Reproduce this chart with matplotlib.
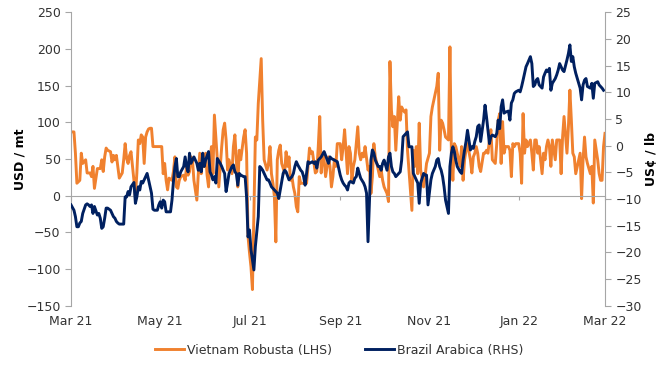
import matplotlib
matplotlib.use("Agg")
import matplotlib.pyplot as plt
import matplotlib.dates as mdates
import numpy as np
import pandas as pd

# days since 1 Mar 2021
rob_day = [0, 2, 3, 4, 5, 6, 7, 8, 10, 11,
           12, 13, 14, 15, 16, 18, 19, 20, 21, 22,
           23, 24, 25, 27, 28, 29, 30, 31, 32, 33,
           35, 36, 37, 38, 39, 40, 41, 43, 44, 45,
           46, 47, 48, 49, 50, 51, 52, 53, 54, 55,
           56, 57, 60, 62, 63, 64, 65, 66, 67, 69,
           70, 71, 72, 73, 74, 75, 77, 78, 79, 80,
           81, 82, 83, 84, 86, 87, 88, 89, 90, 91,
           92, 93, 94, 95, 96, 97, 98, 99, 100, 101,
           102, 103, 104, 105, 106, 107, 108, 110, 111, 112,
           113, 114, 115, 116, 118, 119, 120, 121, 122, 123,
           124, 126, 127, 128, 130, 131, 132, 134, 135, 136,
           137, 138, 139, 140, 141, 142, 143, 144, 146, 147,
           148, 149, 150, 151, 152, 153, 154, 155, 156, 157,
           159, 160, 161, 162, 163, 164, 165, 167, 168, 169,
           170, 171, 172, 173, 174, 176, 177, 178, 179, 180,
           181, 182, 184, 185, 186, 187, 189, 190, 191, 192,
           193, 194, 196, 197, 198, 199, 200, 201, 203, 204,
           205, 206, 207, 208, 209, 210, 211, 212, 213, 214,
           216, 217, 218, 219, 220, 221, 222, 224, 225, 226,
           227, 228, 229, 230, 231, 233, 234, 235, 236, 237,
           238, 239, 241, 242, 243, 244, 245, 246, 247, 249,
           250, 251, 252, 253, 254, 255, 256, 258, 259, 260,
           261, 262, 263, 264, 265, 266, 267, 268, 269, 270,
           271, 273, 274, 275, 276, 277, 278, 279, 280, 282,
           283, 284, 285, 286, 287, 288, 290, 291, 292, 293,
           294, 295, 296, 297, 299, 300, 301, 302, 303, 304,
           306, 307, 308, 309, 310, 311, 312, 314, 315, 316,
           317, 318, 319, 320, 322, 323, 324, 325, 326, 327,
           328, 329, 331, 332, 333, 334, 335, 336, 337, 339,
           340, 341, 342, 343, 344, 345, 347, 348, 349, 350,
           351, 352, 353, 355, 356, 357, 358, 359, 360, 361,
           362, 363, 364, 365]
# Vietnam Robusta, USD / mt (LHS)
rob_val = [87, 87, 58, 17, 19, 21, 58, 44, 49, 31,
           31, 31, 26, 40, 10, 37, 37, 37, 49, 33,
           53, 65, 62, 60, 46, 55, 49, 55, 40, 24,
           31, 49, 71, 51, 44, 55, 60, 21, -1, 31,
           76, 71, 83, 80, 44, 80, 87, 91, 92, 92,
           67, 67, 67, 67, 30, 44, 21, 8, 24, 21,
           33, 53, 12, 10, 21, 26, 28, 21, 40, 28,
           33, 53, 49, 21, -6, 30, 58, 30, 49, 40,
           58, 28, 12, 49, 67, 30, 110, 80, 49, 12,
           40, 67, 90, 99, 76, 35, 49, 30, 67, 83,
           49, 12, 62, 49, 80, 90, 58, -56, -78, -97,
           -128, 80, 76, 126, 187, 103, 49, 35, 44, 67,
           30, 17, -1, -63, 49, 62, 69, 44, 31, 60,
           40, 53, 21, 26, 12, 3, -15, -22, 26, 17,
           17, 17, 17, 40, 65, 58, 60, 31, 33, 67,
           108, 31, 58, 49, 26, 53, 40, 12, 26, 49,
           40, 71, 71, 49, 67, 90, 30, 67, 58, 21,
           40, 49, 94, 58, 49, 58, 53, 67, 35, 40,
           3, 26, 71, 53, 44, 35, 26, 35, 21, 12,
           3, -8, 183, 117, 94, 108, 62, 135, 103, 121,
           117, 114, 117, 62, 35, -20, 62, 40, 67, 30,
           99, 35, 12, 26, 44, 51, 58, 108, 121, 140,
           149, 167, 62, 103, 99, 90, 80, 76, 203, 58,
           21, 71, 67, 58, 49, 40, 67, 21, 49, 62,
           71, 49, 31, 53, 58, 67, 58, 40, 33, 58,
           58, 62, 58, 76, 90, 49, 44, 71, 103, 112,
           44, 101, 58, 67, 67, 62, 26, 71, 67, 71,
           71, 58, 17, 112, 58, 76, 67, 76, 58, 35,
           76, 76, 58, 67, 30, 58, 49, 67, 76, 67,
           40, 76, 49, 76, 76, 76, 30, 80, 108, 58,
           94, 144, 103, 58, 53, 30, 49, 58, -4, 49,
           80, 53, 44, 30, 40, -10, 76, 62, 49, 30,
           21, 21, 67, 85]

ara_day = [0, 2, 3, 4, 5, 6, 7, 8, 10, 11,
           12, 13, 14, 15, 16, 18, 19, 20, 21, 22,
           23, 24, 25, 27, 28, 29, 30, 31, 32, 33,
           35, 36, 37, 38, 39, 40, 41, 43, 44, 45,
           46, 47, 48, 49, 51, 52, 53, 54, 55, 56,
           57, 59, 60, 61, 62, 63, 64, 65, 67, 68,
           69, 70, 71, 72, 73, 74, 75, 77, 78, 79,
           80, 81, 82, 83, 84, 86, 87, 88, 89, 90,
           91, 92, 94, 95, 96, 97, 98, 99, 100, 102,
           103, 104, 105, 106, 107, 108, 110, 111, 112, 113,
           114, 115, 116, 118, 119, 120, 121, 122, 123, 125,
           126, 128, 129, 130, 131, 133, 134, 135, 136, 137,
           138, 139, 141, 142, 143, 144, 145, 146, 147, 149,
           150, 151, 152, 153, 154, 155, 157, 158, 159, 160,
           161, 162, 163, 165, 166, 167, 168, 169, 171, 173,
           176, 177, 178, 180, 182, 184, 185, 186, 187, 188,
           189, 190, 191, 193, 194, 195, 196, 197, 198, 200,
           201, 202, 203, 204, 205, 206, 207, 208, 210, 211,
           212, 213, 214, 216, 217, 218, 219, 220, 221, 222,
           224, 225, 226, 227, 228, 229, 230, 231, 233, 234,
           235, 236, 237, 238, 239, 241, 242, 243, 244, 246,
           247, 249, 250, 251, 252, 253, 254, 255, 256, 258,
           259, 260, 261, 262, 263, 264, 266, 267, 268, 269,
           270, 271, 273, 274, 275, 276, 277, 278, 279, 280,
           282, 283, 284, 285, 286, 287, 288, 290, 291, 292,
           293, 294, 295, 296, 297, 299, 300, 301, 302, 303,
           304, 306, 307, 308, 309, 310, 311, 312, 314, 315,
           316, 317, 318, 319, 320, 322, 323, 324, 325, 326,
           327, 328, 329, 331, 332, 333, 334, 335, 336, 337,
           339, 340, 341, 342, 343, 344, 345, 347, 348, 349,
           350, 351, 352, 353, 355, 356, 357, 358, 360, 361,
           362, 363, 364]
# Brazil Arabica, US cents / lb (RHS)
ara_val = [-11.1, -12.1, -13.3, -15.2, -15.2, -14.5, -14.2, -12.7, -11.1, -10.9,
           -11.1, -11.4, -11.1, -12.7, -11.4, -13.0, -12.7, -13.6, -15.5, -15.2,
           -13.6, -11.7, -11.7, -12.1, -12.7, -13.3, -13.6, -14.2, -14.5, -14.7,
           -14.7, -14.7, -9.6, -9.6, -8.6, -9.2, -7.7, -6.9, -10.8, -9.6,
           -7.7, -8.3, -6.7, -7.0, -5.8, -5.2, -6.4, -7.7, -8.9, -11.9,
           -12.1, -12.1, -11.1, -10.5, -11.7, -10.2, -10.5, -12.4, -12.4, -12.4,
           -10.2, -6.7, -4.0, -2.4, -5.8, -5.8, -4.9, -3.9, -2.1, -3.9,
           -4.9, -1.4, -3.3, -2.7, -2.1, -3.3, -4.6, -3.3, -4.9, -1.4,
           -3.9, -2.7, -1.1, -4.9, -5.5, -6.4, -5.8, -7.0, -2.4, -3.3,
           -3.9, -4.6, -5.2, -8.6, -7.0, -5.2, -3.9, -3.6, -4.9, -5.2,
           -7.4, -5.2, -5.5, -5.8, -5.8, -9.6, -17.1, -15.8, -19.5, -23.3,
           -18.9, -13.3, -3.9, -4.2, -4.6, -5.8, -6.4, -6.4, -7.0, -7.7,
           -8.0, -8.3, -8.9, -9.9, -8.3, -6.7, -5.2, -4.6, -4.9, -6.4,
           -6.1, -5.8, -5.2, -3.9, -3.0, -3.6, -4.6, -4.9, -5.8, -7.4,
           -5.2, -3.0, -3.3, -3.0, -3.3, -3.0, -4.2, -2.7, -2.1, -1.1,
           -3.3, -2.1, -2.4, -2.7, -3.0, -5.5, -6.4, -7.0, -7.4, -7.7,
           -8.3, -7.0, -6.7, -7.0, -6.1, -5.8, -4.2, -5.2, -6.1, -7.0,
           -7.7, -8.9, -18.0, -10.2, -2.7, -0.8, -1.4, -2.7, -3.9, -3.9,
           -4.6, -3.3, -2.7, -4.6, -2.1, -1.4, -3.9, -4.9, -5.2, -5.8,
           -5.2, -4.9, -2.7, 1.7, 2.0, 2.3, 2.6, -0.2, -0.2, -5.2,
           -5.8, -6.4, -7.0, -10.8, -7.0, -5.2, -5.5, -5.5, -11.1, -6.4,
           -5.2, -3.9, -2.7, -2.4, -3.9, -4.6, -5.8, -7.7, -10.2, -12.7,
           -3.9, -1.4, -0.2, -1.1, -2.7, -3.9, -4.9, -5.2, -2.7, -0.8,
           0.8, 2.9, -0.8, -0.2, -0.5, 0.8, 1.7, 3.6, 3.9, 0.8,
           4.8, 7.6, 5.4, 2.9, 0.4, 1.7, 2.0, 1.7, 2.3, 4.8,
           3.2, 7.3, 8.6, 6.1, 6.3, 6.5, 4.8, 8.0, 8.6, 9.8,
           10.1, 10.4, 10.1, 11.1, 12.3, 13.6, 14.8, 15.4, 16.7, 15.4,
           11.1, 11.4, 12.3, 12.6, 11.4, 10.8, 12.9, 13.6, 14.2, 13.9,
           14.5, 10.4, 11.7, 12.6, 13.3, 14.2, 15.4, 14.8, 14.2, 13.9,
           16.1, 17.3, 18.9, 15.8, 16.7, 14.8, 13.6, 11.7, 10.8, 8.6,
           11.4, 12.3, 12.6, 11.1, 10.8, 11.7, 8.9, 11.7, 12.0, 11.4,
           11.1, 10.8, 10.4]

start = pd.Timestamp("2021-03-01")
rob_x = mdates.date2num(start + pd.to_timedelta(rob_day, unit="D"))
ara_x = mdates.date2num(start + pd.to_timedelta(ara_day, unit="D"))

orange = "#F0812F"
navy = "#002060"
grey = "#A6A6A6"
txt = "#333333"

fig = plt.figure(figsize=(6.72, 3.76), dpi=100)
ax = fig.add_axes([0.1057, 0.187, 0.7946, 0.780])
ax2 = ax.twinx()

l1, = ax.plot(rob_x, rob_val, color=orange, lw=2.1, label="Vietnam Robusta (LHS)")
l2, = ax2.plot(ara_x, ara_val, color=navy, lw=2.1, label="Brazil Arabica (RHS)")

ax.set_xlim(mdates.date2num(pd.Timestamp("2021-03-01")),
            mdates.date2num(pd.Timestamp("2022-03-01")))
ax.set_ylim(-150, 250)
ax.set_yticks(np.arange(-150, 251, 50))
ax2.set_ylim(-30, 25)
ax2.set_yticks(np.arange(-30, 26, 5))

# x axis line sits on zero, month labels sit at the bottom
months = mdates.MonthLocator(bymonth=[1, 3, 5, 7, 9, 11])
ax.spines["bottom"].set_position(("data", 0))
ax.spines["bottom"].set_color(grey)
ax.xaxis.set_major_locator(months)
ax.tick_params(axis="x", direction="out", length=3, color=grey, labelbottom=False)

sec = ax.secondary_xaxis(0)
sec.xaxis.set_major_locator(mdates.MonthLocator(bymonth=[1, 3, 5, 7, 9, 11]))
sec.xaxis.set_major_formatter(mdates.DateFormatter("%b %y"))
sec.spines["bottom"].set_visible(False)
sec.tick_params(length=0, labelsize=9, labelcolor=txt, pad=7)

for a in (ax, ax2):
    a.spines["top"].set_visible(False)
ax.spines["right"].set_visible(False)
ax2.spines["left"].set_visible(False)
ax2.spines["bottom"].set_visible(False)
ax.spines["left"].set_color(grey)
ax2.spines["right"].set_color(grey)

ax.tick_params(axis="y", direction="out", length=4, color=grey, labelsize=9, labelcolor=txt)
ax2.tick_params(axis="y", direction="out", length=4, color=grey, labelsize=9, labelcolor=txt)

ax.set_ylabel("USD / mt", fontsize=9, fontweight="bold", color="black", labelpad=0)
ax2.set_ylabel("US¢ / lb", fontsize=9, fontweight="bold", color="black", labelpad=2)

fig.legend([l1, l2], [l1.get_label(), l2.get_label()], loc="center",
           bbox_to_anchor=(0.505, 0.069), ncol=2, frameon=False, fontsize=9,
           handlelength=2.3, handletextpad=0.3, columnspacing=2.6,
           labelcolor=txt)

fig.savefig("out.png", dpi=100)
